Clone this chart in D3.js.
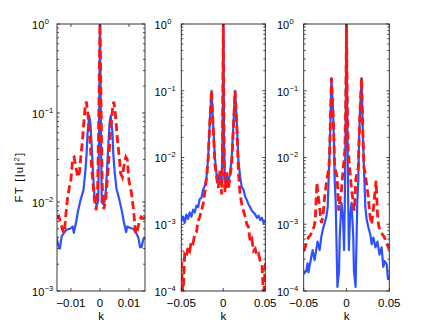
<!DOCTYPE html>
<html>
<head>
<meta charset="utf-8">
<script src="https://cdn.jsdelivr.net/npm/d3@7/dist/d3.min.js"></script>
<style>
  body { margin: 0; background: #fff; }
  text { font-family: "Liberation Sans", Arial, sans-serif; fill: #000; }
</style>
</head>
<body>
<div id="chart"></div>
<script>
// ---- data ----
// panel 1
var k1Blue = [-0.0149, -0.0143, -0.0138, -0.0132, -0.0124, -0.0115, -0.0104, -0.0094, -0.0090, -0.0082, -0.0075, -0.0067, -0.0057,
  -0.0051, -0.0046, -0.0043, -0.0037, -0.0033, -0.0029, -0.0024, -0.0019, -0.0015, -0.0010, -0.0006, -0.0004, 0,
  0.0004, 0.0006, 0.0010, 0.0015, 0.0019, 0.0024, 0.0029, 0.0033, 0.0037, 0.0043, 0.0046, 0.0051, 0.0057,
  0.0067, 0.0075, 0.0082, 0.0090, 0.0094, 0.0104, 0.0115, 0.0124, 0.0132, 0.0138, 0.0143, 0.0149, 0.0156]
var ft1Blue = [3.9e-3, 3.2e-3, 3.0e-3, 4.1e-3, 4.5e-3, 4.9e-3, 5.0e-3, 5.3e-3, 4.5e-3, 6.0e-3, 8.1e-3, 1.05e-2, 1.36e-2,
  2.1e-2, 3.5e-2, 5.9e-2, 9.3e-2, 7.6e-2, 4.6e-2, 2.1e-2, 1.15e-2, 9.8e-3, 9.3e-3, 1.05e-2, 3.8e-2, 1,
  3.8e-2, 1.0e-2, 9.5e-3, 9.9e-3, 1.2e-2, 2.2e-2, 4.5e-2, 7.8e-2, 9.3e-2, 6.0e-2, 3.4e-2, 2.1e-2, 1.4e-2,
  1.05e-2, 8.0e-3, 6.0e-3, 4.6e-3, 5.3e-3, 5.1e-3, 5.0e-3, 4.5e-3, 4.0e-3, 3.1e-3, 3.1e-3, 3.8e-3, 4.0e-3]
var k1Red = [-0.0149, -0.0142, -0.0136, -0.0129, -0.0123, -0.0117, -0.0111, -0.0105, -0.0100, -0.0094, -0.0089, -0.0082, -0.0077,
  -0.0071, -0.0066, -0.0060, -0.0056, -0.0051, -0.0047, -0.0043, -0.0038, -0.0033, -0.0029, -0.0024, -0.0019, -0.0013, -0.0008, -0.0005, 0,
  0.0005, 0.0008, 0.0013, 0.0019, 0.0024, 0.0029, 0.0033, 0.0038, 0.0043, 0.0047, 0.0051, 0.0056, 0.0060, 0.0066,
  0.0071, 0.0077, 0.0082, 0.0089, 0.0094, 0.0100, 0.0105, 0.0111, 0.0117, 0.0123, 0.0129, 0.0136, 0.0142, 0.0149, 0.0156]
var ft1Red = [6.6e-3, 6.9e-3, 6.0e-3, 4.9e-3, 4.5e-3, 7.5e-3, 1.15e-2, 1.48e-2, 1.78e-2, 3.1e-2, 3.2e-2, 2.4e-2, 1.9e-2,
  2.1e-2, 3.2e-2, 5.0e-2, 7.6e-2, 1.18e-1, 1.34e-1, 1.08e-1, 7.0e-2, 4.2e-2, 2.5e-2, 1.6e-2, 1.05e-2, 8.1e-3, 1.48e-2, 5.9e-2, 1,
  5.7e-2, 1.5e-2, 8.3e-3, 1.0e-2, 1.6e-2, 2.6e-2, 4.3e-2, 7.2e-2, 1.1e-1, 1.34e-1, 1.15e-1, 7.4e-2, 5.0e-2, 3.3e-2,
  2.1e-2, 1.9e-2, 2.5e-2, 3.2e-2, 3.0e-2, 1.7e-2, 1.45e-2, 1.1e-2, 7.2e-3, 4.4e-3, 4.8e-3, 6.2e-3, 6.8e-3, 6.5e-3, 6.7e-3]

// panel 2 (both curves on the same k grid)
var k2 = [-0.050, -0.048, -0.046, -0.044, -0.042, -0.040, -0.038, -0.036, -0.034, -0.032, -0.030, -0.028, -0.026, -0.024,
  -0.022, -0.020, -0.018, -0.016, -0.014, -0.012, -0.010, -0.008, -0.006, -0.004, -0.002, -0.001, 0,
  0.001, 0.002, 0.004, 0.006, 0.008, 0.010, 0.012, 0.014, 0.016, 0.018, 0.020, 0.022, 0.024, 0.026,
  0.028, 0.030, 0.032, 0.034, 0.036, 0.038, 0.040, 0.042, 0.044, 0.046, 0.048, 0.050]
var ft2Blue = [1.1e-3, 1.3e-3, 1.05e-3, 1.4e-3, 1.2e-3, 1.5e-3, 1.3e-3, 1.65e-3, 1.5e-3, 1.9e-3, 1.8e-3, 2.4e-3, 2.5e-3, 3.3e-3,
  3.8e-3, 5.0e-3, 1.0e-2, 3.5e-2, 1.0e-1, 3.0e-2, 1.0e-2, 5.6e-3, 4.5e-3, 5.6e-3, 4.0e-3, 1.6e-2, 1,
  1.5e-2, 4.2e-3, 5.4e-3, 4.3e-3, 5.8e-3, 1.0e-2, 3.0e-2, 1.0e-1, 3.5e-2, 9.0e-3, 5.2e-3, 3.6e-3, 3.3e-3, 2.6e-3,
  2.3e-3, 2.0e-3, 1.8e-3, 1.6e-3, 1.5e-3, 1.4e-3, 1.25e-3, 1.35e-3, 1.15e-3, 1.25e-3, 1.05e-3, 1.15e-3]
var ft2Red = [2.8e-4, 8e-5, 3.5e-4, 3.2e-4, 4.5e-4, 4.0e-4, 5.6e-4, 5.2e-4, 7.1e-4, 7.6e-4, 1.1e-3, 1.3e-3, 1.6e-3, 2.0e-3,
  3.0e-3, 4.8e-3, 1.0e-2, 3.5e-2, 1.0e-1, 2.8e-2, 8.0e-3, 5.0e-3, 3.5e-3, 6.3e-3, 2.8e-3, 1.0e-2, 1,
  1.0e-2, 3.0e-3, 6.0e-3, 3.3e-3, 5.2e-3, 8.0e-3, 2.8e-2, 1.0e-1, 3.3e-2, 6.0e-3, 2.8e-3, 2.0e-3, 1.6e-3, 1.3e-3,
  1.0e-3, 9.0e-4, 5.5e-4, 6.0e-4, 4.0e-4, 4.3e-4, 3.4e-4, 3.6e-4, 2.8e-4, 2.5e-4, 8e-5, 2.6e-4]

// panel 3
var k3Blue = [-0.050, -0.047, -0.0455, -0.0444, -0.0412, -0.0396, -0.0373, -0.0338, -0.0314, -0.0294, -0.0279, -0.0255, -0.0235,
  -0.022, -0.0205, -0.019, -0.0176, -0.0158, -0.0146, -0.0138, -0.0126, -0.0118, -0.0106, -0.0087, -0.0079, -0.0059,
  -0.004, -0.0028, -0.002, -0.0012, 0,
  0.0012, 0.002, 0.0028, 0.004, 0.0059, 0.0079, 0.0087, 0.0106, 0.0118, 0.0126, 0.0138, 0.0146, 0.0158, 0.0176,
  0.019, 0.0205, 0.022, 0.0235, 0.0255, 0.0279, 0.0294, 0.0314, 0.0338, 0.0362, 0.0385, 0.041, 0.043, 0.0445,
  0.047, 0.0485, 0.050]
var ft3Blue = [1.8e-4, 2.0e-4, 2.6e-4, 1.9e-4, 3.2e-4, 4.1e-4, 2.9e-4, 5.5e-4, 4.1e-4, 6.5e-4, 8.1e-4, 1.05e-3, 1.3e-3,
  1.8e-3, 6.3e-3, 2.5e-2, 1.55e-1, 5.1e-2, 1.8e-2, 4.6e-3, 2.1e-3, 6.5e-4, 1.15e-4, 2.0e-4, 6.5e-4, 2.1e-3,
  1.15e-3, 4.1e-4, 2.1e-3, 2.0e-2, 1,
  2.0e-2, 2.1e-3, 4.1e-4, 1.15e-3, 2.1e-3, 6.5e-4, 2.0e-4, 1.15e-4, 6.5e-4, 2.1e-3, 4.6e-3, 1.8e-2, 5.1e-2, 1.55e-1,
  2.5e-2, 6.3e-3, 1.8e-3, 1.2e-3, 9.0e-4, 7.0e-4, 5.0e-4, 6.3e-4, 4.5e-4, 5.5e-4, 3.5e-4, 4.5e-4, 2.3e-4, 2.8e-4,
  2.5e-4, 1.5e-4, 1.7e-4]
var k3Red = [-0.050, -0.048, -0.046, -0.044, -0.042, -0.040, -0.038, -0.0365, -0.0355, -0.0346, -0.033, -0.0314, -0.0294,
  -0.0275, -0.0255, -0.0235, -0.0216, -0.0205, -0.0196, -0.0185, -0.0176, -0.0158, -0.0146, -0.0138, -0.011, -0.0099,
  -0.0091, -0.0075, -0.0059, -0.0047, -0.004, -0.002, -0.001, 0,
  0.001, 0.002, 0.004, 0.0047, 0.0059, 0.0075, 0.0091, 0.0099, 0.011, 0.0138, 0.0146, 0.0158, 0.0176, 0.0185,
  0.0196, 0.0205, 0.0216, 0.0235, 0.0255, 0.0275, 0.0294, 0.0314, 0.033, 0.0346, 0.0355, 0.0365, 0.038, 0.040,
  0.042, 0.044, 0.046, 0.048, 0.050]
var ft3Red = [4.0e-4, 4.6e-4, 5.8e-4, 6.5e-4, 6.9e-4, 7.9e-4, 9.1e-4, 1.15e-3, 2.2e-3, 4.2e-3, 2.6e-3, 1.8e-3, 1.05e-3,
  1.3e-3, 2.6e-3, 4.2e-3, 5.9e-3, 7.2e-3, 1.45e-2, 5.1e-2, 1.55e-1, 5.1e-2, 1.66e-2, 7.2e-3, 5.1e-3, 2.6e-3,
  1.6e-3, 2.4e-3, 3.2e-3, 5.1e-3, 6.5e-3, 1.25e-2, 5.0e-2, 1,
  5.0e-2, 1.3e-2, 6.3e-3, 5.0e-3, 3.3e-3, 2.3e-3, 1.6e-3, 2.5e-3, 5.0e-3, 7.0e-3, 1.7e-2, 5.0e-2, 1.55e-1, 5.0e-2,
  1.4e-2, 7.0e-3, 6.0e-3, 4.0e-3, 2.5e-3, 1.3e-3, 1.0e-3, 1.7e-3, 2.8e-3, 4.5e-3, 2.3e-3, 1.2e-3, 9.0e-4, 8.0e-4,
  7.0e-4, 6.5e-4, 5.5e-4, 4.8e-4, 4.2e-4]

// ticks
var xTicks1 = [-0.01, 0, 0.01]
var xTickLabels1 = ["\u22120.01", "0", "0.01"]
var xTicks23 = [-0.05, 0, 0.05]
var xTickLabels23 = ["\u22120.05", "0", "0.05"]
var yTicks1 = [1, 1e-1, 1e-2, 1e-3]
var yExp1 = ["0", "\u22121", "\u22122", "\u22123"]
var yTicks23 = [1, 1e-1, 1e-2, 1e-3, 1e-4]
var yExp23 = ["0", "\u22121", "\u22122", "\u22123", "\u22124"]

// ---- drawing ----
var width = 436, height = 328
var plotTop = 24, plotBottom = 291

var svg = d3.select("#chart").append("svg")
  .attr("width", width)
  .attr("height", height)

var panels = [
  { left: 57, right: 145, xDomain: [-0.0148, 0.0155], yDomain: [1e-3, 1], xTicks: xTicks1, xLabels: xTickLabels1,
    yTicks: yTicks1, yExp: yExp1, blue: [k1Blue, ft1Blue], red: [k1Red, ft1Red], labOff: 12.7 },
  { left: 181.3, right: 265.3, xDomain: [-0.05, 0.05], yDomain: [1e-4, 1], xTicks: xTicks23, xLabels: xTickLabels23,
    yTicks: yTicks23, yExp: yExp23, blue: [k2, ft2Blue], red: [k2, ft2Red], labOff: 14.5 },
  { left: 303.7, right: 389.3, xDomain: [-0.05, 0.05], yDomain: [1e-4, 1], xTicks: xTicks23, xLabels: xTickLabels23,
    yTicks: yTicks23, yExp: yExp23, blue: [k3Blue, ft3Blue], red: [k3Red, ft3Red], labOff: 14.5 }
]

panels.forEach(function (p, i) {
  var x = d3.scaleLinear().domain(p.xDomain).range([p.left, p.right])
  var y = d3.scaleLog().domain(p.yDomain).range([plotBottom, plotTop])
  var g = svg.append("g")

  g.append("clipPath").attr("id", "clip" + i)
    .append("rect")
    .attr("x", p.left).attr("y", plotTop)
    .attr("width", p.right - p.left).attr("height", plotBottom - plotTop)

  var line = d3.line()
    .x(function (d) { return x(d[0]) })
    .y(function (d) { return y(d[1]) })

  var plot = g.append("g").attr("clip-path", "url(#clip" + i + ")")
  plot.append("path")
    .attr("d", line(d3.zip(p.blue[0], p.blue[1])))
    .attr("fill", "none")
    .attr("stroke", "#2f50ff")
    .attr("stroke-width", 2.2)
    .attr("stroke-linejoin", "round")
  plot.append("path")
    .attr("d", line(d3.zip(p.red[0], p.red[1])))
    .attr("fill", "none")
    .attr("stroke", "#ff1414")
    .attr("stroke-width", 2.8)
    .attr("stroke-dasharray", "8,4")

  // box
  g.append("rect")
    .attr("x", p.left).attr("y", plotTop)
    .attr("width", p.right - p.left).attr("height", plotBottom - plotTop)
    .attr("fill", "none").attr("stroke", "#222").attr("stroke-width", 0.9)

  // y ticks, major and minor, on both sides
  var lo = Math.round(Math.log10(p.yDomain[0]))
  var ticks = g.append("g").attr("stroke", "#222").attr("stroke-width", 0.8)
  for (var e = lo; e <= 0; e++) {
    for (var m = 1; m <= 9; m++) {
      var v = m * Math.pow(10, e)
      if (v > 1) break
      var len = m == 1 ? 3 : 2
      var yy = y(v)
      ticks.append("line").attr("x1", p.left).attr("x2", p.left + len).attr("y1", yy).attr("y2", yy)
      ticks.append("line").attr("x1", p.right).attr("x2", p.right - len).attr("y1", yy).attr("y2", yy)
    }
  }
  // x ticks top and bottom
  p.xTicks.forEach(function (t) {
    ticks.append("line").attr("x1", x(t)).attr("x2", x(t)).attr("y1", plotBottom).attr("y2", plotBottom - 3)
    ticks.append("line").attr("x1", x(t)).attr("x2", x(t)).attr("y1", plotTop).attr("y2", plotTop + 3)
  })

  // y tick labels: "10" plus raised exponent
  p.yTicks.forEach(function (t, j) {
    g.append("text")
      .attr("x", p.left - p.labOff).attr("y", y(t) + 4.8)
      .attr("text-anchor", "end")
      .style("font-size", "11px")
      .text("10")
    g.append("text")
      .attr("x", p.left - p.labOff + 0.4).attr("y", y(t) - 0.2)
      .style("font-size", "7.5px")
      .text(p.yExp[j])
  })

  // x tick labels
  p.xTicks.forEach(function (t, j) {
    g.append("text")
      .attr("x", x(t)).attr("y", plotBottom + 16)
      .attr("text-anchor", "middle")
      .style("font-size", "11.5px")
      .text(p.xLabels[j])
  })

  g.append("text")
    .attr("x", (p.left + p.right) / 2).attr("y", 319.5)
    .attr("text-anchor", "middle")
    .style("font-size", "11.5px")
    .text("k")
})

// y axis label of the first panel
var yl = svg.append("text")
  .attr("transform", "translate(22.5,177) rotate(-90)")
  .attr("text-anchor", "middle")
  .style("font-size", "11.5px")
  .style("letter-spacing", "1.2px")
yl.append("tspan").text("FT [|u|")
yl.append("tspan").attr("dy", -4).style("font-size", "7.5px").text("2")
yl.append("tspan").attr("dy", 4).text("]")
</script>
</body>
</html>
